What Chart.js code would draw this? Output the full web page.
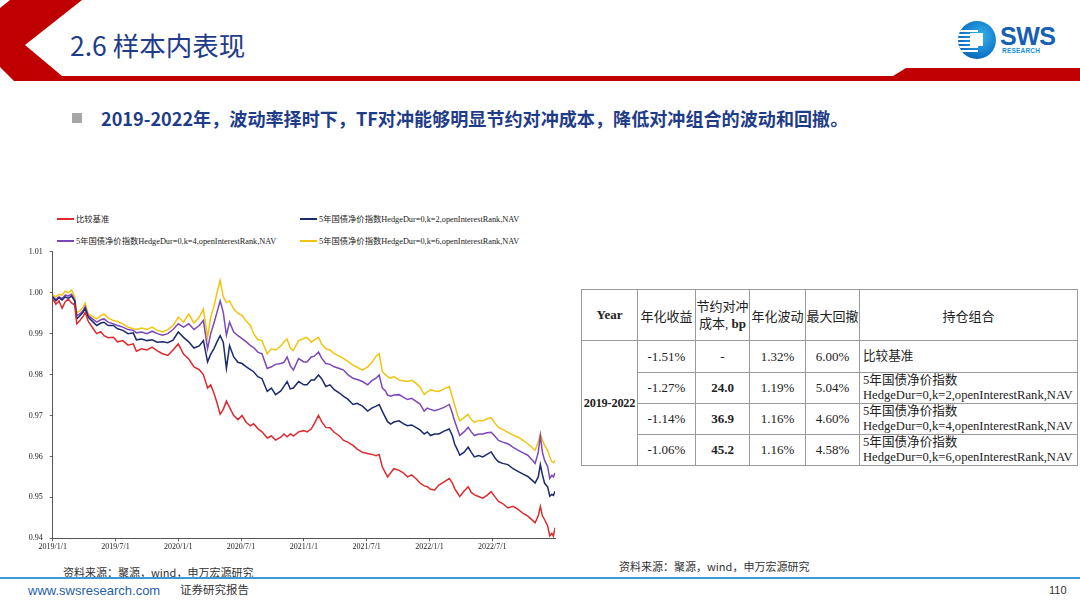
<!DOCTYPE html>
<html>
<head>
<meta charset="utf-8">
<script src="https://cdn.jsdelivr.net/npm/chart.js@4.4.1/dist/chart.umd.min.js"></script>
<style>
  html,body{margin:0;padding:0;background:#fff;}
  body{width:1080px;height:608px;position:relative;overflow:hidden;font-family:"Liberation Sans","Noto Sans CJK SC",sans-serif;}
  .abs{position:absolute;}
  #title{left:70px;top:26px;font-family:"Noto Sans CJK SC",sans-serif;font-size:26.5px;color:#1f3c88;line-height:38px;white-space:nowrap;}
  #bullet{left:72px;top:113px;width:10px;height:10px;background:#a6a6a6;}
  #subtitle{left:101px;top:105px;font-family:"Noto Sans CJK SC",sans-serif;font-weight:700;font-size:18.1px;color:#1f3c88;line-height:26px;white-space:nowrap;}
  #legend{left:0;top:0;width:580px;height:0;}
  .lg{position:absolute;height:12px;font-family:"Liberation Serif","Noto Sans CJK SC",serif;font-size:8.3px;color:#222;white-space:nowrap;line-height:12px;}
  .lg span.ln{display:inline-block;width:17px;height:1.5px;vertical-align:middle;margin-right:2px;position:relative;top:-1px;}
  #chartBox{left:0;top:240px;width:580px;height:320px;}
  table{position:absolute;left:581px;top:289px;border-collapse:collapse;font-family:"Liberation Serif","Noto Sans CJK SC",serif;font-size:13px;color:#222;table-layout:fixed;}
  td{border:1px solid #9a9a9a;text-align:center;padding:0;}
  td.pf{text-align:left;padding-left:3px;white-space:nowrap;line-height:15px;font-size:12.6px;}
  td.yr{white-space:nowrap;font-size:12.3px;letter-spacing:-0.2px;}
  .src{font-family:"Noto Sans CJK SC",sans-serif;font-size:11px;color:#333;white-space:nowrap;}
  #footline{left:0;top:577px;width:1080px;height:2px;background:#3a9ad9;}
  #url{left:28px;top:583px;font-family:"Liberation Sans",sans-serif;font-size:13px;color:#1f5fa8;}
  #rep{left:180px;top:581px;font-family:"Noto Sans CJK SC",sans-serif;font-size:11.5px;color:#333;}
  #page{left:1049px;top:584px;font-family:"Liberation Sans",sans-serif;font-size:11px;color:#333;}
  #logoC{left:958px;top:21px;width:38px;height:38px;border-radius:50%;background:radial-gradient(circle at 60% 40%,#35b3ee,#0b6cc0 70%,#0a58a8);overflow:hidden;}
  #logoC .st{position:absolute;left:0;width:20px;height:2px;background:#fff;}
  #logoC .sq{position:absolute;left:12px;top:12px;width:13px;height:13px;background:#fff;}
  #sws{left:1000px;top:22px;font-family:"Liberation Sans",sans-serif;font-weight:700;font-size:25px;color:#1660b2;letter-spacing:-0.5px;line-height:28px;}
  #res{left:1002px;top:47px;font-family:"Liberation Sans",sans-serif;font-weight:700;font-size:6.5px;color:#1a8fd8;letter-spacing:0.2px;}
</style>
</head>
<body>
<svg class="abs" style="left:0;top:0" width="1080" height="90">
  <polygon points="10,0 82,0 25,45 62,76 893,76 906,68 1080,68 1080,81 14,81 0,67 0,8" fill="#c00000"/>
</svg>
<div id="title" class="abs">2.6 样本内表现</div>
<div id="logoC" class="abs">
  <div class="st" style="top:9px"></div><div class="st" style="top:13px"></div><div class="st" style="top:17px"></div>
  <div class="st" style="top:21px"></div><div class="st" style="top:25px"></div><div class="st" style="top:29px"></div>
  <div class="sq"></div>
</div>
<div id="sws" class="abs">SWS</div>
<div id="res" class="abs">RESEARCH</div>
<div id="bullet" class="abs"></div>
<div id="subtitle" class="abs">2019-2022年，波动率择时下，TF对冲能够明显节约对冲成本，降低对冲组合的波动和回撤。</div>

<div id="legend" class="abs"></div>
<div id="chartBox" class="abs"><canvas id="c"></canvas></div>

<table>
  <colgroup><col style="width:56px"><col style="width:58px"><col style="width:54px"><col style="width:56px"><col style="width:54px"><col style="width:218px"></colgroup>
  <tr style="height:51px">
    <td><b>Year</b></td>
    <td>年化收益</td>
    <td style="line-height:17px">节约对冲<br>成本, <b>bp</b></td>
    <td>年化波动</td>
    <td>最大回撤</td>
    <td>持仓组合</td>
  </tr>
  <tr style="height:32px">
    <td rowspan="4" class="yr"><b>2019-2022</b></td>
    <td>-1.51%</td><td>-</td><td>1.32%</td><td>6.00%</td><td class="pf">比较基准</td>
  </tr>
  <tr style="height:31px">
    <td>-1.27%</td><td><b>24.0</b></td><td>1.19%</td><td>5.04%</td><td class="pf">5年国债净价指数<br>HedgeDur=0,k=2,openInterestRank,NAV</td>
  </tr>
  <tr style="height:31px">
    <td>-1.14%</td><td><b>36.9</b></td><td>1.16%</td><td>4.60%</td><td class="pf">5年国债净价指数<br>HedgeDur=0,k=4,openInterestRank,NAV</td>
  </tr>
  <tr style="height:31px">
    <td>-1.06%</td><td><b>45.2</b></td><td>1.16%</td><td>4.58%</td><td class="pf">5年国债净价指数<br>HedgeDur=0,k=6,openInterestRank,NAV</td>
  </tr>
</table>

<div class="abs src" style="left:63px;top:564px">资料来源：聚源，wind，申万宏源研究</div>
<div class="abs src" style="left:619px;top:558px">资料来源：聚源，wind，申万宏源研究</div>
<div id="footline" class="abs"></div>
<div id="url" class="abs">www.swsresearch.com</div>
<div id="rep" class="abs">证券研究报告</div>
<div id="page" class="abs">110</div>

<script>
// ---- data (x = months since 2019/1/1) ----
const seriesNames = [
  '比较基准',
  '5年国债净价指数HedgeDur=0,k=2,openInterestRank,NAV',
  '5年国债净价指数HedgeDur=0,k=4,openInterestRank,NAV',
  '5年国债净价指数HedgeDur=0,k=6,openInterestRank,NAV'
];
const seriesColors = ['#dc2a2f', '#1c2a6e', '#7a48b8', '#f2c40f'];
const xTickMonths = [0, 6, 12, 18, 24, 30, 36, 42];
const xTickLabels = ['2019/1/1','2019/7/1','2020/1/1','2020/7/1','2021/1/1','2021/7/1','2022/1/1','2022/7/1'];
const yTickValues = [0.94, 0.95, 0.96, 0.97, 0.98, 0.99, 1.00, 1.01];

const months = [0.0,0.3,0.6,0.9,1.2,1.5,1.8,2.1,2.3,2.6,2.9,3.1,3.4,3.8,4.2,4.6,4.9,5.3,5.8,6.2,6.7,7.2,7.7,8.0,8.5,9.0,9.5,10.0,10.5,11.0,11.5,12.0,12.5,13.0,13.5,14.0,14.4,14.8,15.1,15.4,15.7,16.0,16.3,16.6,16.9,17.3,17.7,18.1,18.5,18.9,19.2,19.6,20.0,20.5,20.9,21.3,21.8,22.1,22.4,22.7,23.0,23.5,24.0,24.3,24.7,25.0,25.4,25.7,26.1,26.5,26.9,27.4,27.8,28.2,28.7,29.1,29.6,30.1,30.5,30.9,31.2,31.5,31.8,32.0,32.3,32.6,33.1,33.5,33.9,34.3,34.7,35.1,35.5,35.8,36.1,36.5,36.9,37.4,37.9,38.2,38.4,38.7,38.9,39.3,39.7,40.0,40.3,40.7,41.1,41.5,41.9,42.3,42.6,43.0,43.5,44.0,44.5,45.0,45.4,45.8,46.1,46.4,46.6,46.8,47.0,47.3,47.5,47.7,47.85,48.0];

const benchmark = [.9985,.9972,.9980,.9962,.9978,.9984,.9975,.9970,.9924,.9932,.9942,.9952,.9930,.9915,.9900,.9905,.9895,.9890,.9891,.9880,.9883,.9872,.9875,.9857,.9863,.9860,.9867,.9858,.9851,.9847,.9860,.9875,.9850,.9838,.9819,.9812,.9800,.9767,.9775,.9755,.9731,.9703,.9715,.9735,.9720,.9700,.9690,.9700,.9683,.9675,.9680,.9668,.9660,.9645,.9650,.9640,.9647,.9655,.9648,.9655,.9650,.9660,.9663,.9660,.9667,.9680,.9700,.9685,.9671,.9670,.9659,.9650,.9639,.9635,.9627,.9618,.9610,.9607,.9605,.9602,.9605,.9574,.9560,.9550,.9560,.9570,.9566,.9560,.9550,.9555,.9546,.9535,.9528,.9526,.9520,.9518,.9530,.9538,.9546,.9535,.9522,.9510,.9502,.9515,.9526,.9512,.9506,.9502,.9498,.9505,.9514,.9500,.9490,.9485,.9474,.9478,.9470,.9460,.9454,.9445,.9438,.9455,.9478,.9455,.9446,.9430,.9406,.9412,.9405,.9426];
const hedgeK2 = [.9990,.9980,.9988,.9982,.9990,.9986,.9992,.9980,.9936,.9944,.9952,.9962,.9940,.9930,.9920,.9926,.9928,.9920,.9920,.9912,.9908,.9900,.9902,.9885,.9887,.9883,.9885,.9879,.9880,.9878,.9884,.9904,.9891,.9880,.9865,.9870,.9883,.9831,.9850,.9863,.9880,.9895,.9879,.9815,.9871,.9843,.9830,.9827,.9819,.9812,.9807,.9795,.9790,.9759,.9767,.9751,.9760,.9771,.9783,.9765,.9767,.9783,.9775,.9775,.9787,.9787,.9799,.9790,.9771,.9775,.9763,.9755,.9747,.9740,.9727,.9730,.9723,.9711,.9718,.9723,.9727,.9710,.9695,.9685,.9679,.9684,.9687,.9680,.9675,.9677,.9671,.9665,.9655,.9660,.9651,.9655,.9655,.9662,.9667,.9650,.9631,.9615,.9603,.9610,.9623,.9610,.9599,.9602,.9599,.9605,.9611,.9595,.9587,.9583,.9580,.9570,.9563,.9556,.9551,.9542,.9535,.9550,.9580,.9555,.9535,.9525,.9503,.9507,.9505,.9515];
const hedgeK4 = [.9990,.9984,.9990,.9986,.9994,.9992,.9996,.9982,.9944,.9948,.9956,.9966,.9944,.9936,.9928,.9934,.9936,.9928,.9924,.9920,.9916,.9910,.9908,.9902,.9904,.9900,.9906,.9900,.9896,.9900,.9910,.9924,.9916,.9924,.9910,.9920,.9932,.9863,.9900,.9925,.9952,.9980,.9952,.9896,.9928,.9904,.9895,.9888,.9880,.9871,.9866,.9855,.9851,.9815,.9819,.9825,.9827,.9830,.9843,.9822,.9811,.9839,.9831,.9831,.9843,.9845,.9855,.9840,.9827,.9825,.9819,.9815,.9811,.9800,.9791,.9788,.9783,.9775,.9785,.9791,.9799,.9767,.9760,.9750,.9747,.9750,.9751,.9745,.9739,.9742,.9735,.9728,.9711,.9718,.9715,.9712,.9715,.9720,.9727,.9705,.9687,.9665,.9651,.9660,.9671,.9660,.9651,.9655,.9655,.9658,.9659,.9648,.9639,.9635,.9631,.9622,.9615,.9608,.9603,.9592,.9583,.9610,.9651,.9610,.9591,.9575,.9546,.9554,.9550,.9560];
const hedgeK6 = [.9995,.9990,.9996,.9994,1.0004,1.0000,1.0006,.9990,.9950,.9956,.9964,.9974,.9948,.9942,.9936,.9944,.9948,.9938,.9932,.9930,.9924,.9916,.9912,.9910,.9914,.9910,.9916,.9908,.9904,.9910,.9920,.9940,.9928,.9948,.9926,.9940,.9960,.9891,.9940,.9966,1.0000,1.0030,.9990,.9976,.9980,.9960,.9950,.9944,.9930,.9920,.9900,.9885,.9883,.9851,.9863,.9860,.9870,.9880,.9887,.9865,.9859,.9883,.9888,.9891,.9879,.9885,.9891,.9875,.9863,.9860,.9851,.9845,.9839,.9832,.9823,.9818,.9811,.9819,.9830,.9845,.9851,.9807,.9800,.9795,.9791,.9795,.9787,.9785,.9783,.9786,.9779,.9770,.9751,.9758,.9763,.9760,.9759,.9765,.9771,.9745,.9727,.9700,.9687,.9695,.9703,.9690,.9683,.9688,.9687,.9692,.9695,.9680,.9671,.9666,.9659,.9652,.9647,.9638,.9631,.9622,.9615,.9635,.9655,.9640,.9627,.9615,.9599,.9587,.9585,.9590];

const seriesValues = [benchmark, hedgeK2, hedgeK4, hedgeK6];

// ---- chart ----
const datasets = seriesValues.map((vals, i) => ({
  label: seriesNames[i],
  data: months.map((m, j) => ({ x: m, y: vals[j] })),
  borderColor: seriesColors[i],
  backgroundColor: seriesColors[i],
  borderWidth: 1.5,
  pointRadius: 0,
  tension: 0,
  order: i
}));

const tickFont = { family: 'Liberation Serif', size: 8 };
const chart = new Chart(document.getElementById('c'), {
  type: 'line',
  data: { datasets },
  options: {
    responsive: false,
    maintainAspectRatio: false,
    animation: false,
    devicePixelRatio: 1,
    layout: { padding: { left: 0, right: 25, top: 9, bottom: 0 } },
    plugins: { legend: { display: false }, tooltip: { enabled: false } },
    scales: {
      x: {
        type: 'linear',
        min: 0, max: 48,
        afterBuildTicks: s => { s.ticks = xTickMonths.map(v => ({ value: v })); },
        afterFit: s => { s.height = 21.7; },
        ticks: {
          font: tickFont, color: '#222', padding: 1, maxRotation: 0, autoSkip: false,
          callback: v => { const k = xTickMonths.indexOf(v); return k >= 0 ? xTickLabels[k] : ''; }
        },
        grid: { drawOnChartArea: false, drawTicks: true, tickLength: 3, color: '#666' },
        border: { display: true, color: '#555', width: 1 }
      },
      y: {
        min: 0.94, max: 1.01,
        afterBuildTicks: s => { s.ticks = yTickValues.map(v => ({ value: v })); },
        afterFit: s => { s.width = 52.7; },
        ticks: { font: tickFont, color: '#222', padding: 7, callback: v => Number(v).toFixed(2) },
        grid: { drawOnChartArea: false, drawTicks: true, tickLength: 3, color: '#666' },
        border: { display: true, color: '#555', width: 1 }
      }
    }
  }
});
document.getElementById('c').style.width = '580px';
chart.resize(580, 320);

// ---- HTML legend built from the chart's datasets ----
const legendPos = [[57, 214], [300, 214], [57, 236], [300, 236]];
const lg = document.getElementById('legend');
chart.data.datasets.forEach((ds, i) => {
  const d = document.createElement('div');
  d.className = 'lg';
  d.style.left = legendPos[i][0] + 'px';
  d.style.top = legendPos[i][1] + 'px';
  const ln = document.createElement('span');
  ln.className = 'ln';
  ln.style.background = ds.borderColor;
  d.appendChild(ln);
  d.appendChild(document.createTextNode(ds.label));
  lg.appendChild(d);
});
</script>
</body>
</html>
